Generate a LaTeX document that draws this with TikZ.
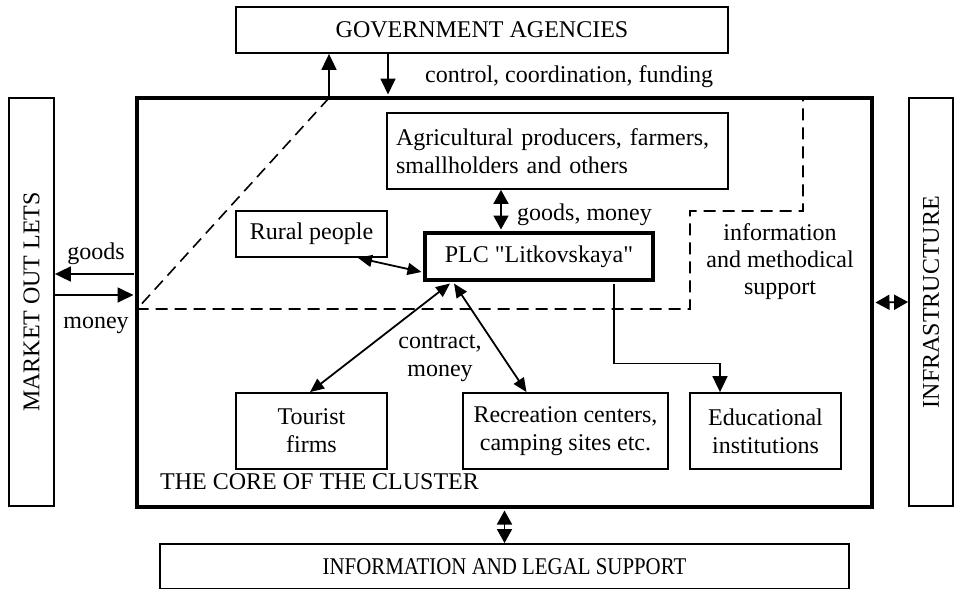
\documentclass[tikz,border=0pt]{standalone}
\usepackage{fontspec}
\setmainfont[Ligatures=TeXOff]{Liberation Serif}
\usepackage{graphicx}
\usetikzlibrary{arrows.meta}
\newcommand{\dfont}{\fontsize{24}{28}\selectfont}
\begin{document}
\begin{tikzpicture}[x=1pt,y=-1pt,
  box/.style={draw, line width=1.8pt, inner sep=0pt, align=center, font=\dfont},
  thickbox/.style={draw, line width=3.5pt, inner sep=0pt, align=center, font=\dfont},
  lbl/.style={inner sep=0pt, align=center, font=\dfont},
  conn/.style={line width=1.8pt},
  guide/.style={line width=1.6pt, dash pattern=on 12pt off 7pt},
  >={Triangle[length=16pt,width=15pt]},
  pair/.style={>={Triangle[length=14pt,width=15pt]}},
  small/.style={>={Triangle[length=14pt,width=12pt]}}]
\useasboundingbox (0,0) rectangle (954,589);

% cluster core frame
\node[thickbox, minimum width=735pt, minimum height=409pt] (core) at (504.5,302.5) {};

% outer boxes
\node[box, minimum width=492pt, minimum height=46pt] (gov) at (482,30) {GOVERNMENT AGENCIES};
\node[box, minimum width=45pt, minimum height=408pt] (market) at (31.5,302) {\rotatebox{90}{MARKET OUT LETS}};
\node[box, minimum width=44pt, minimum height=408pt] (infra) at (931,302) {\rotatebox{90}{INFRASTRUCTURE}};
\node[box, minimum width=689pt, minimum height=45pt] (info) at (504.5,566.5) {\scalebox{0.87}[1]{INFORMATION AND LEGAL SUPPORT}};

% inner boxes
\node[box, minimum width=341pt, minimum height=76pt, text width=323pt, align=left] (agri) at (557.5,151)
  {Agricultural producers, farmers,\\smallholders and others};
\node[thickbox, minimum width=228pt, minimum height=47pt] (plc) at (539,256.5) {PLC "Litkovskaya"};
\node[box, minimum width=151pt, minimum height=46pt] (rural) at (311.5,234) {Rural people};
\node[box, minimum width=151pt, minimum height=76pt] (tourist) at (311.5,431) {Tourist\\firms};
\node[box, minimum width=205pt, minimum height=76pt] (recre) at (565.5,431) {Recreation centers,\\camping sites etc.};
\node[box, minimum width=151pt, minimum height=76pt] (edu) at (765.5,431) {Educational\\institutions};

% information / methodical support boundary
\draw[guide] (329,98) -- (137,309) -- (690,309) -- (690,211) -- (803,211) -- (803,98);

% helper positions
\coordinate (xup) at (329,0);
\coordinate (xdown) at (388,0);
\coordinate (ygoods) at (0,274);
\coordinate (ymoney) at (0,295);
\coordinate (xgm) at (501,0);

% connectors
\draw[conn,->] (xup |- core.north) -- (xup |- gov.south);
\draw[conn,->] (xdown |- gov.south) -- ([yshift=1.75pt]xdown |- core.north);
\draw[conn,->] ([xshift=-1.75pt]core.west |- ygoods) -- (market.east |- ygoods);
\draw[conn,->] (market.east |- ymoney) -- ([xshift=-1.75pt]core.west |- ymoney);
\draw[conn,pair,<->] ([xshift=1.75pt]core.east) -- (infra.west);
\draw[conn,pair,<->] ([yshift=-1.75pt]core.south) -- (info.north);
\draw[conn,pair,<->] (agri.south -| xgm) -- ([yshift=1.75pt]plc.north -| xgm);
\draw[conn,small,<->] ([xshift=46.5pt]rural.south) -- ([xshift=-1.75pt,yshift=-15.5pt]plc.west);
\draw[conn,small,<->] ([xshift=-89pt,yshift=-1.75pt]plc.south) -- ([xshift=-1.5pt]tourist.north);
\draw[conn,small,<->] ([xshift=-85pt,yshift=-1.75pt]plc.south) -- ([xshift=-39pt]recre.north);
\draw[conn,->] ([xshift=75pt,yshift=-1.75pt]plc.south) -- ++(0,80) -| ([xshift=-45.5pt]edu.north);

% labels
\node[lbl, anchor=base west] (lctrl) at (425,82) {control, coordination, funding};
\node[lbl, anchor=base] (lgoods) at (96,259) {goods};
\node[lbl, anchor=base] (lmoney) at (96,328) {money};
\node[lbl, anchor=base west] (lgm) at (517,220) {goods, money};
\node[lbl, font=\fontsize{24}{27}\selectfont] (linfo) at (780,262) {information\\and methodical\\support};
\node[lbl] (lcontract) at (440,358) {contract,\\money};
\node[lbl, anchor=base west] (lcore) at (160,489) {THE CORE OF THE CLUSTER};
\end{tikzpicture}
\end{document}
